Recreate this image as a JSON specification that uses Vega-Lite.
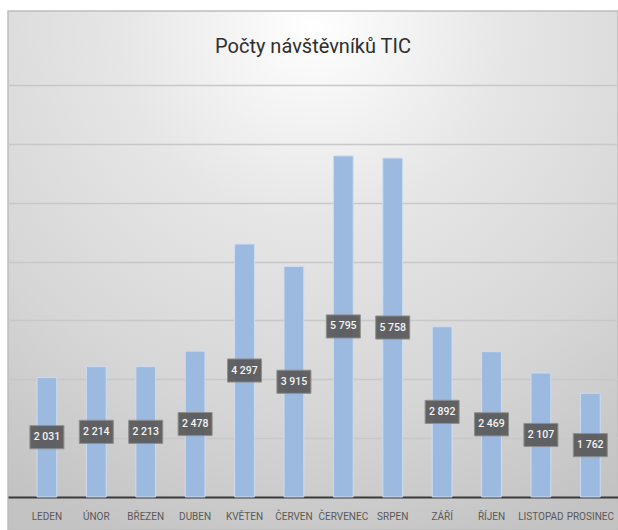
{
  "$schema": "https://vega.github.io/schema/vega-lite/v6.json",
  "width": 610,
  "height": 519,
  "autosize": "none",
  "padding": {"left": 8, "top": 11, "right": 0, "bottom": 0},
  "background": "#ffffff",
  "view": {
    "stroke": "#bdbdbd",
    "strokeWidth": 1.5,
    "fill": {
      "gradient": "radial",
      "x1": 0.5, "y1": 0.1, "r1": 0,
      "x2": 0.5, "y2": 0.1, "r2": 0.9,
      "stops": [
        {"offset": 0, "color": "#ffffff"},
        {"offset": 0.35, "color": "#e6e6e6"},
        {"offset": 0.7, "color": "#d6d6d6"},
        {"offset": 1, "color": "#c3c3c3"}
      ]
    }
  },
  "title": {
    "text": "Počty návštěvníků TIC",
    "offset": -46,
    "fontSize": 20,
    "font": "Roboto, sans-serif",
    "fontWeight": "normal",
    "color": "#2e2e2e",
    "anchor": "middle"
  },
  "config": {
    "locale": {"number": {"decimal": ",", "thousands": " ", "grouping": [3], "currency": ["", " Kč"]}},
    "axis": {"labelFont": "Roboto, sans-serif"}
  },
  "data": {
    "values": [
      {"mesic": "LEDEN", "v": 2031},
      {"mesic": "ÚNOR", "v": 2214},
      {"mesic": "BŘEZEN", "v": 2213},
      {"mesic": "DUBEN", "v": 2478},
      {"mesic": "KVĚTEN", "v": 4297},
      {"mesic": "ČERVEN", "v": 3915},
      {"mesic": "ČERVENEC", "v": 5795},
      {"mesic": "SRPEN", "v": 5758},
      {"mesic": "ZÁŘÍ", "v": 2892},
      {"mesic": "ŘÍJEN", "v": 2469},
      {"mesic": "LISTOPAD", "v": 2107},
      {"mesic": "PROSINEC", "v": 1762}
    ]
  },
  "transform": [{"calculate": "datum.v / 2", "as": "mid"}],
  "encoding": {
    "x": {
      "field": "mesic",
      "type": "nominal",
      "sort": null,
      "title": null,
      "scale": {"paddingInner": 0.6, "paddingOuter": 0.474, "align": 0.62},
      "axis": {
        "offset": -33,
        "domainColor": "#3a3a3a",
        "domainWidth": 2,
        "ticks": false,
        "labelAngle": 0,
        "labelPadding": 14,
        "labelFontSize": 10,
        "labelColor": "#595959",
        "grid": false
      }
    }
  },
  "layer": [
    {
      "mark": {"type": "bar", "color": "#9cb9df", "stroke": "#cddcf0", "strokeWidth": 1},
      "encoding": {
        "y": {
          "field": "v",
          "type": "quantitative",
          "title": null,
          "scale": {"domain": [-561, 8257], "nice": false, "zero": false},
          "axis": {
            "values": [1000, 2000, 3000, 4000, 5000, 6000, 7000],
            "labels": false,
            "ticks": false,
            "domain": false,
            "grid": true,
            "gridColor": "#c8c8c8",
            "gridWidth": 1.5
          }
        },
        "y2": {"datum": 0}
      }
    },
    {
      "mark": {
        "type": "point",
        "filled": true,
        "shape": "M-1,-0.68H1V0.68H-1Z",
        "size": 1156,
        "color": "#595959",
        "opacity": 0.92,
        "stroke": "#8a8a8a",
        "strokeWidth": 1
      },
      "encoding": {
        "y": {"field": "mid", "type": "quantitative"}
      }
    },
    {
      "mark": {
        "type": "text",
        "color": "#f4f4f4",
        "fontSize": 10.5,
        "font": "Roboto, sans-serif",
        "fontWeight": 500,
        "baseline": "middle",
        "align": "center"
      },
      "encoding": {
        "y": {"field": "mid", "type": "quantitative"},
        "text": {"field": "v", "type": "quantitative", "format": ",d"}
      }
    }
  ]
}
